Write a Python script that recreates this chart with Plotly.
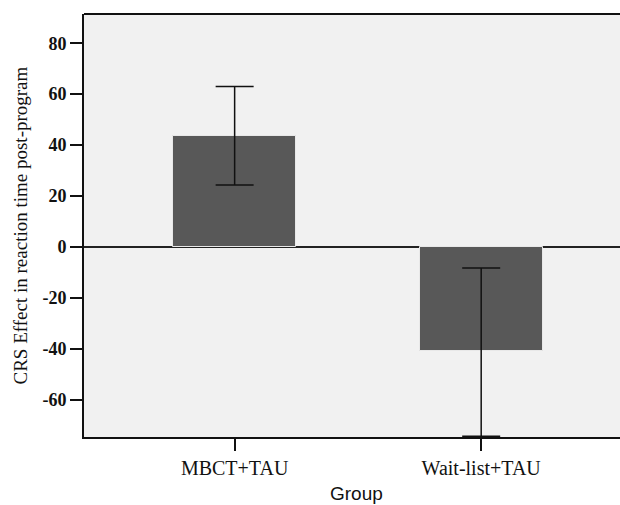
import plotly.graph_objects as go

groups = ["MBCT+TAU", "Wait-list+TAU"]
means = [43.6, -41.1]
err_plus = [19.4, 32.8]
err_minus = [19.3, 33.3]
y_ticks = [-60, -40, -20, 0, 20, 40, 60, 80]
y_tick_labels = ["-60", "-40", "-20", "0", "20", "40", "60", "80"]

fig = go.Figure()
fig.add_trace(go.Bar(
    x=[0, 1], y=means, width=0.5,
    marker=dict(color="#585858", line=dict(color="#e8e8e8", width=1)),
    error_y=dict(type="data", symmetric=False, array=err_plus, arrayminus=err_minus,
                 color="#111111", thickness=1.5, width=19),
    showlegend=False,
))

fig.update_layout(
    width=620, height=505,
    margin=dict(l=84, r=0, t=14, b=68, autoexpand=False),
    paper_bgcolor="white",
    plot_bgcolor="#f1f1f1",
    bargap=0,
    xaxis=dict(
        range=[-0.611, 1.563], tickmode="array", tickvals=[0, 1], ticktext=groups,
        ticks="outside", ticklen=12, tickwidth=1.5, tickcolor="#111",
        showline=True, linecolor="#111", linewidth=2, mirror=False,
        showgrid=False, zeroline=False,
        tickfont=dict(family="Liberation Serif", size=20, color="#111"),
    ),
    yaxis=dict(
        range=[-74.7, 91.5], tickmode="array", tickvals=y_ticks, ticktext=y_tick_labels,
        ticks="outside", ticklen=12, tickwidth=1.5, tickcolor="#111",
        showline=True, linecolor="#111", linewidth=2,
        showgrid=False, zeroline=True, zerolinecolor="#222", zerolinewidth=2,
        tickfont=dict(family="Liberation Serif", size=18, color="#111", weight="bold"),
    ),
    shapes=[dict(type="line", xref="paper", yref="paper", x0=0, x1=1, y0=1, y1=1,
                 line=dict(color="#111", width=2))],
    annotations=[
        dict(text="Group", xref="paper", yref="paper", x=0.509, y=0, xanchor="center",
             yanchor="top", yshift=-44, showarrow=False,
             font=dict(family="Liberation Sans", size=19, color="#111")),
        dict(text="CRS Effect in reaction time post-program", xref="paper", yref="paper",
             x=0, y=0.5, xanchor="center", yanchor="middle", xshift=-64, textangle=-90,
             showarrow=False, font=dict(family="Liberation Serif", size=19, color="#111")),
    ],
)

fig.write_html(
    "out.html",
    config={"displayModeBar": False},
    post_script="document.body.style.margin='0';document.body.style.overflow='hidden';",
)
